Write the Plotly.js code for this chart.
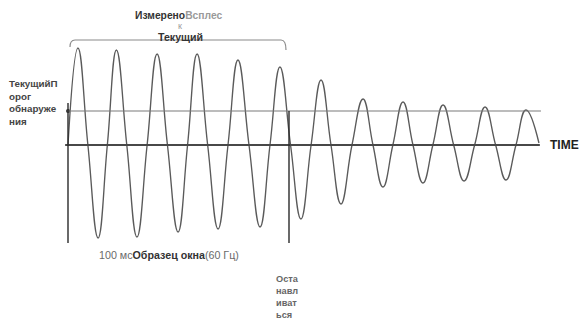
<!DOCTYPE html>
<html>
<head>
<meta charset="utf-8">
<script src="https://cdn.plot.ly/plotly-3.0.1.min.js"></script>
<style>html,body{margin:0;padding:0;background:#fff;}#chart{width:581px;height:322px;}</style>
</head>
<body>
<div id="chart"></div>
<script>
// Time in ms (0 = start of the 100 ms sample window), current in relative units
const time_ms = [0, 4.5, 9.0, 13.6, 17.8, 21.9, 26.6, 31.2, 35.8, 40.3, 45.0, 49.8, 54.1, 58.4, 63.2, 67.9, 72.4, 76.9, 81.9, 86.9, 91.4, 95.9, 100.7, 105.4, 110.0, 114.5, 119.0, 123.5, 128.5, 133.5, 138.0, 142.5, 147.0, 151.6, 156.1, 160.6, 165.1, 169.7, 174.5, 179.2, 184.0, 188.7, 193.5, 198.2, 202.7, 207.2, 213.1];
const current = [0, 0.97, 0, -0.93, 0, 0.95, 0, -0.92, 0, 0.91, 0, -0.87, 0, 0.91, 0, -0.84, 0, 0.85, 0, -0.82, 0, 0.78, 0, -0.74, 0, 0.65, 0, -0.59, 0, 0.46, 0, -0.42, 0, 0.43, 0, -0.38, 0, 0.40, 0, -0.36, 0, 0.38, 0, -0.35, 0, 0.35, 0.02];
const thresholdLevel = 0.34;
const windowStart = 0;
const windowEnd = 100;
const axisEnd = 213.5;
const windowBottom = -0.98;

const W = 581, H = 322;
const X0 = 68, PXMS = 2.21, Y0 = 145, PXU = 100;
const xr = [(0 - X0) / PXMS, (W - X0) / PXMS];
const yr = [(Y0 - H) / PXU, Y0 / PXU];
const tx = p => (p - X0) / PXMS;
const ay = p => (Y0 - p) / PXU;
const px = p => p / W;
const py = p => 1 - p / H;

const traces = [
  {x: time_ms, y: current, type: 'scatter', mode: 'lines',
   line: {color: '#5a5a5a', width: 1.35, shape: 'spline', smoothing: 1.3}, hoverinfo: 'skip'},
  {x: [windowStart], y: [thresholdLevel], type: 'scatter', mode: 'markers',
   marker: {color: '#333', size: 4}, hoverinfo: 'skip'}
];

const FONT = 'Liberation Sans, Arial, sans-serif';
const shapes = [
  {type: 'line', xref: 'x', yref: 'y', x0: -1.3, x1: axisEnd, y0: 0, y1: 0, line: {color: '#484848', width: 1.9}},
  {type: 'line', xref: 'x', yref: 'y', x0: -0.5, x1: axisEnd + 0.5, y0: thresholdLevel, y1: thresholdLevel, line: {color: '#7a7a7a', width: 1.1}},
  {type: 'line', xref: 'x', yref: 'y', x0: windowStart, x1: windowStart, y0: ay(103), y1: windowBottom, line: {color: '#2a2a2a', width: 1.4}},
  {type: 'line', xref: 'x', yref: 'y', x0: windowEnd, x1: windowEnd, y0: thresholdLevel, y1: windowBottom, line: {color: '#2a2a2a', width: 1.4}},
  {type: 'path', xref: 'x', yref: 'y',
   path: `M ${tx(70)},${ay(47)} Q ${tx(70)},${ay(40)} ${tx(75)},${ay(40)} L ${tx(281)},${ay(40)} Q ${tx(286)},${ay(40)} ${tx(286)},${ay(50)}`,
   line: {color: '#8a8a8a', width: 1.2}}
];

function ann(text, x, y, opts) {
  return Object.assign({text: text, xref: 'paper', yref: 'paper', x: px(x), y: py(y),
    showarrow: false, xanchor: 'left', yanchor: 'middle',
    font: {family: FONT, size: 10, color: '#333'}}, opts || {});
}

const annotations = [
  ann('<b>Измерено</b><b><span style="color:#9a9a9a">Всплес</span></b>', 179, 15, {xanchor: 'center', font: {family: FONT, size: 10.3, color: '#333'}}),
  ann('<span style="color:#9a9a9a">к</span>', 180, 26, {xanchor: 'center', font: {family: FONT, size: 9, color: '#999'}}),
  ann('<b>Текущий</b>', 180, 37, {xanchor: 'center', font: {family: FONT, size: 10.6, color: '#333'}}),
  ann('<b>ТекущийП<br>орог<br>обнаруже<br>ния</b>', 7, 76, {yanchor: 'top', align: 'left', font: {family: FONT, size: 9.8, color: '#444'}}),
  ann('<span style="color:#6a6a6a">100 мс</span><b>Образец окна</b><span style="color:#6a6a6a">(60 Гц)</span>', 97, 255, {font: {family: FONT, size: 10.7, color: '#333'}}),
  ann('<b>Оста<br>навл<br>иват<br>ься</b>', 274, 272, {yanchor: 'top', align: 'left', font: {family: FONT, size: 9.2, color: '#666'}}),
  ann('<b>TIME</b>', 548, 145, {font: {family: FONT, size: 12, color: '#222'}})
];

const layout = {
  width: W, height: H,
  margin: {l: 0, r: 0, t: 0, b: 0},
  paper_bgcolor: '#fff', plot_bgcolor: '#fff',
  showlegend: false,
  xaxis: {range: xr, visible: false, fixedrange: true},
  yaxis: {range: yr, visible: false, fixedrange: true},
  shapes: shapes,
  annotations: annotations
};

Plotly.newPlot('chart', traces, layout, {staticPlot: true, displayModeBar: false});
</script>
</body>
</html>
